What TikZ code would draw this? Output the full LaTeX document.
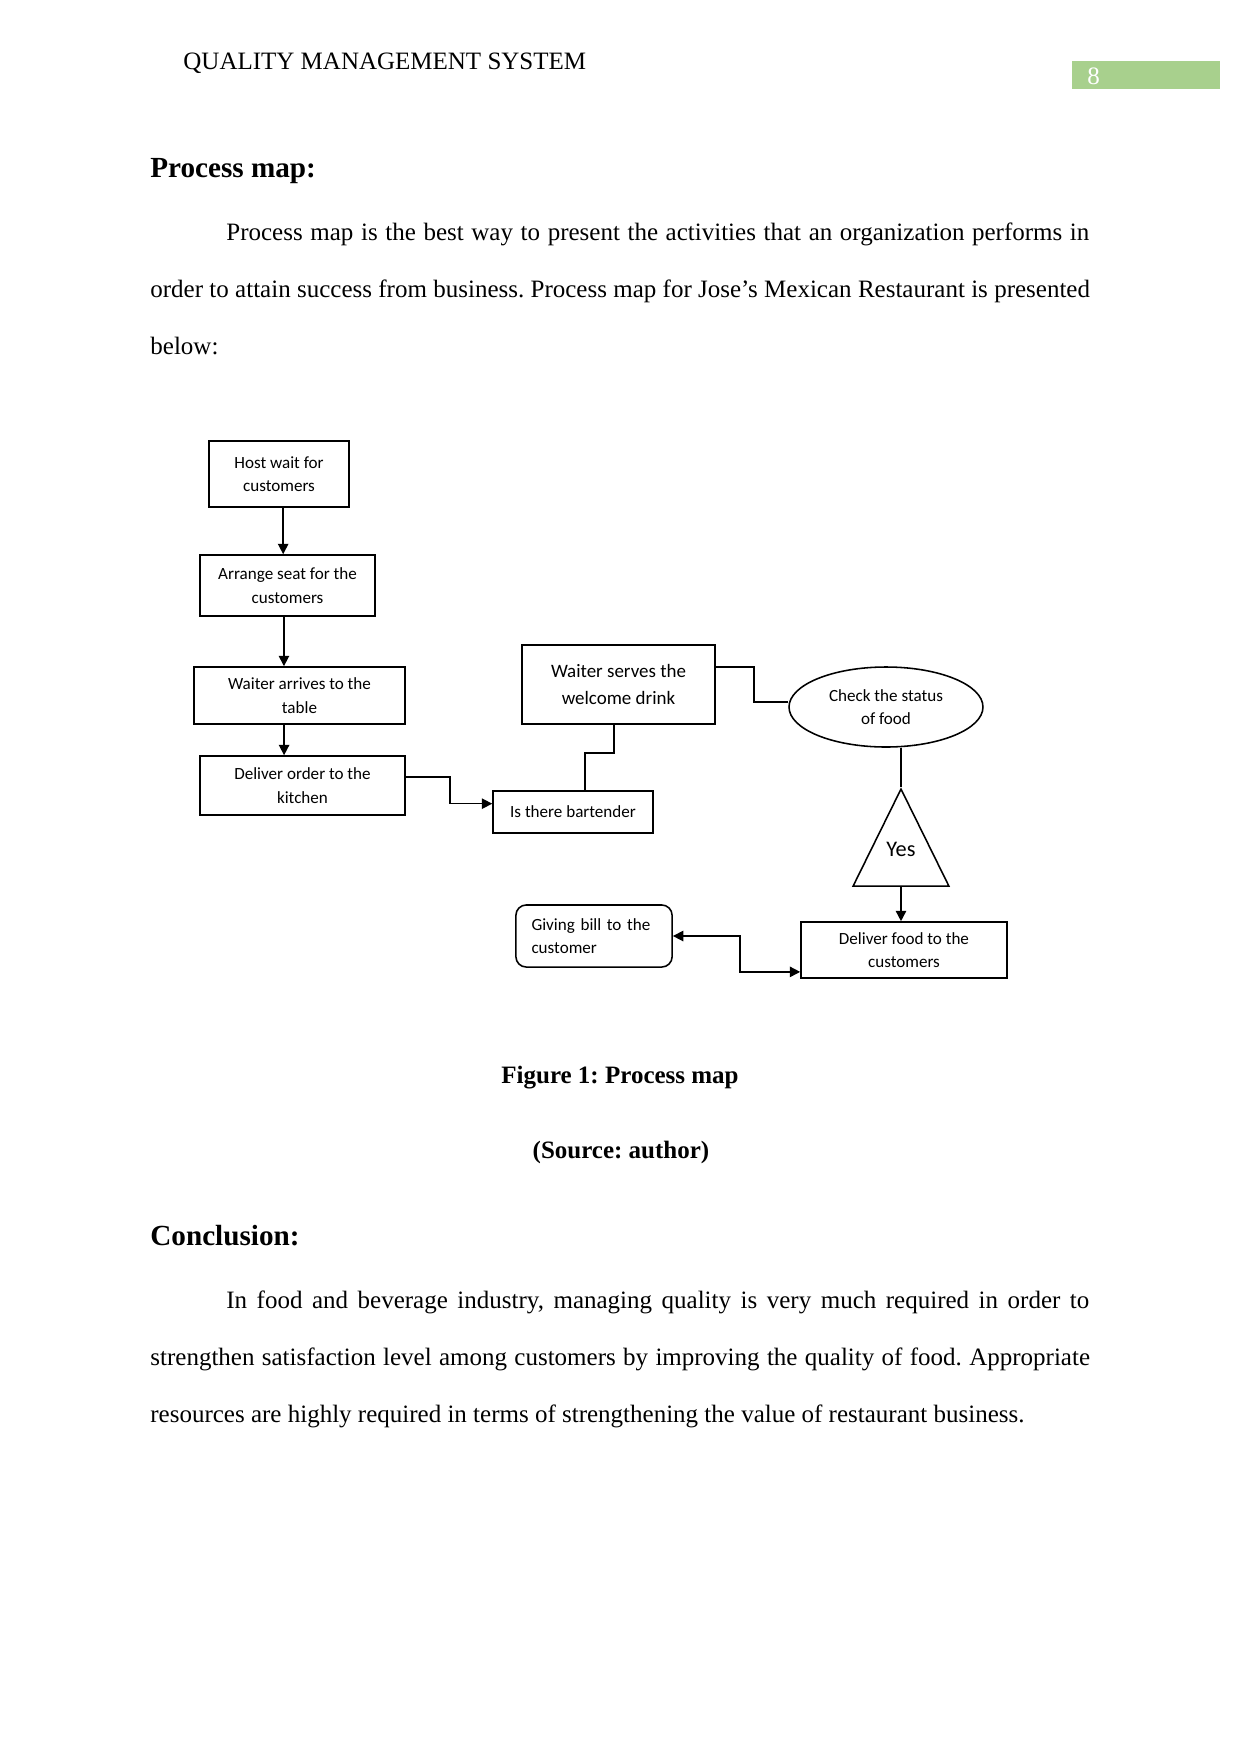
\documentclass[tikz,border=0pt]{standalone}
\usepackage{fontspec}
\setmainfont{Liberation Serif}
\newfontfamily\diagfont{Carlito}
\usepackage{xcolor}
\usetikzlibrary{positioning, arrows.meta, shapes.geometric}
\definecolor{pagegreen}{RGB}{168,208,141}
\frenchspacing

\begin{document}
\begin{tikzpicture}[x=0.48pt, y=-0.48pt,
  stepbox/.style={draw, line width=0.75pt, align=center, inner sep=1pt,
    font=\diagfont\fontsize{8.2}{11.3}\selectfont},
  flow/.style={line width=0.75pt},
  arrow/.style={flow, -{Triangle[length=5pt,width=5pt]}},
  bodyline/.style={anchor=base west, inner sep=0pt, font=\fontsize{12}{14}\selectfont},
  headline/.style={bodyline, font=\fontsize{14}{16}\selectfont\bfseries}
]
\useasboundingbox (0,0) rectangle (1241,1754);

% page header
\node[bodyline] (head) at (183,69) {QUALITY MANAGEMENT SYSTEM};
\node[fill=pagegreen, anchor=north west, minimum width=71pt, minimum height=13pt, inner sep=0pt] (pagebox) at (1072,61) {};
\node[bodyline, text=white] (pagenum) at (1087,84) {8};

% text above the figure
\node[headline] (pmtitle) at (150,177) {Process map:};
\node[bodyline] (pmline1) at (226,240.7) {\makebox[414.2pt][s]{Process map is the best way to present the activities that an organization performs in}};
\node[bodyline] (pmline2) at (150,297.5) {\makebox[451pt][s]{order to attain success from business. Process map for Jose’s Mexican Restaurant is presented}};
\node[bodyline] (pmline3) at (150,354) {below:};

% process map
\node[stepbox, minimum width=67.2pt, minimum height=31.7pt] (host) at (279,474) {Host wait for\\customers};
\node[stepbox, minimum width=84pt, minimum height=29.3pt] (seat) at (287.5,585.5) {Arrange seat for the\\customers};
\node[stepbox, minimum width=101.3pt, minimum height=27.4pt] (arrive) at (299.5,695.5) {Waiter arrives to the\\table};
\node[stepbox, minimum width=98.4pt, minimum height=28.3pt] (order) at (302.5,785.5) {Deliver order to the\\kitchen};
\node[stepbox, minimum width=76.8pt, minimum height=20.2pt] (bartender) at (573,812) {Is there bartender};
\node[stepbox, minimum width=92.6pt, minimum height=37.9pt, font=\diagfont\fontsize{9.1}{12.9}\selectfont] (serves) at (618.5,684.5) {Waiter serves the\\welcome drink};
\node[stepbox, ellipse, minimum width=93.1pt, minimum height=38.4pt] (check) at (886,707) {Check the status\\of food};
\node[draw, line width=0.75pt, isosceles triangle, shape border rotate=90, isosceles triangle stretches,
  minimum width=46pt, minimum height=46.6pt, inner sep=0pt, anchor=apex] (yes) at (901,787) {};
\node[inner sep=0pt, font=\diagfont\fontsize{10.7}{12}\selectfont] (yestext) at ([yshift=-30pt]yes.apex) {Yes};
\node[stepbox, minimum width=98.9pt, minimum height=26.9pt] (food) at (904,950) {Deliver food to the\\customers};
\node[stepbox, rounded corners=5pt, align=left, text width=60pt, inner xsep=7.5pt, minimum height=29.8pt] (bill) at (594,936) {Giving bill to the\\customer};

\draw[arrow] ([xshift=2pt]host.south) -- ([xshift=2pt]host.south |- seat.north);
\draw[arrow] ([xshift=-1.7pt]seat.south) -- ([xshift=-1.7pt]seat.south |- arrive.north);
\draw[arrow] ([xshift=-7.4pt]arrive.south) -- ([xshift=-7.4pt]arrive.south |- order.north);
\draw[arrow] ([yshift=4pt]order.east) -- ++(44,0) |- ([yshift=4pt]bartender.west);
\draw[flow] ([xshift=5.8pt]bartender.north) -- ++(0,-37) -| ([xshift=-2.2pt]serves.south);
\draw[flow] ([yshift=8.4pt]serves.east) -- ++(38,0) |- ([yshift=2.4pt]check.west);
\draw[flow] (check.south -| yes.apex) -- (yes.apex);
\draw[arrow] (yes.south) -- (yes.south |- food.north);
\draw[flow, {Triangle[length=5pt,width=5pt]}-{Triangle[length=5pt,width=5pt]}] (bill.east) -- ++(67,0) |- ([yshift=-10.5pt]food.west);

% caption
\node[anchor=base, inner sep=0pt, font=\fontsize{12}{14}\selectfont\bfseries] (fig) at (620,1083) {Figure 1: Process map};
\node[anchor=base, inner sep=0pt, font=\fontsize{12}{14}\selectfont\bfseries] (src) at (621,1158) {(Source: author)};

% conclusion
\node[headline] (cctitle) at (150,1245) {Conclusion:};
\node[bodyline] (ccline1) at (226,1308) {\makebox[414.2pt][s]{In food and beverage industry, managing quality is very much required in order to}};
\node[bodyline] (ccline2) at (150,1365) {\makebox[451pt][s]{strengthen satisfaction level among customers by improving the quality of food. Appropriate}};
\node[bodyline] (ccline3) at (150,1422) {resources are highly required in terms of strengthening the value of restaurant business.};
\end{tikzpicture}
\end{document}
